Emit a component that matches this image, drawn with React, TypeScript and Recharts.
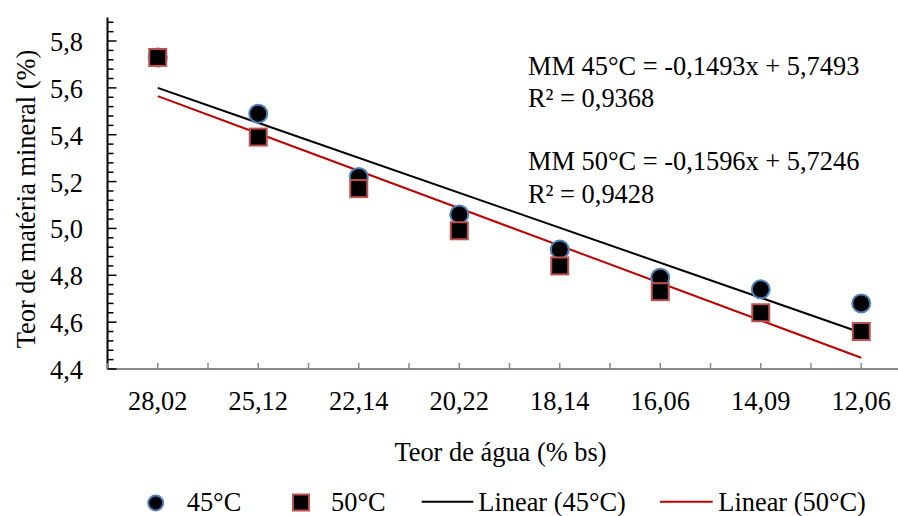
import { ComposedChart, Line, XAxis, YAxis } from "recharts";

const categories = ["28,02", "25,12", "22,14", "20,22", "18,14", "16,06", "14,09", "12,06"];
const mm45 = [5.73, 5.49, 5.22, 5.06, 4.91, 4.79, 4.74, 4.68];
const mm50 = [5.73, 5.39, 5.17, 4.99, 4.84, 4.73, 4.64, 4.56];
// trendline end points (first and last category), from the printed equations
const trend45 = [5.6, null, null, null, null, null, null, 4.555];
const trend50 = [5.565, null, null, null, null, null, null, 4.448];
const yLabels = [4.4, 4.6, 4.8, 5.0, 5.2, 5.4, 5.6, 5.8];

const FONT = '"Liberation Serif", "Times New Roman", serif';
const FS = 26.4;

const rows = categories.map((cat, i) => ({
  idx: i + 1,
  cat,
  mm45: mm45[i],
  mm50: mm50[i],
  t45: trend45[i],
  t50: trend50[i],
}));

// half-category ticks on x, minor ticks every 0.04 on y
const xTicks = Array.from({ length: categories.length * 2 + 1 }, (_, i) => 0.5 + i * 0.5);
const yTicks = Array.from({ length: 38 }, (_, i) => Math.round((4.4 + i * 0.04) * 100) / 100);

const fmt = (v: number) => v.toFixed(1).replace(".", ",");

function YTick(props: any) {
  const { x, y, payload } = props;
  const v = payload.value as number;
  const major = yLabels.some((m) => Math.abs(m - v) < 1e-6);
  return (
    <g>
      <line x1={x} x2={x + (major ? 9 : 6)} y1={y} y2={y} stroke="#000" strokeWidth={1.5} />
      {major && (
        <text x={x - 24.5} y={y + 10} textAnchor="end" fontFamily={FONT} fontSize={FS} fill="#000">
          {fmt(v)}
        </text>
      )}
    </g>
  );
}

function XTick(props: any) {
  const { x, y, payload } = props;
  const v = payload.value as number;
  const isCat = Number.isInteger(v);
  return (
    <g>
      <line x1={x} x2={x} y1={y} y2={y - 6} stroke="#898989" strokeWidth={1.5} />
      {isCat && (
        <text x={x} y={y + 41} textAnchor="middle" fontFamily={FONT} fontSize={FS} fill="#000">
          {categories[v - 1]}
        </text>
      )}
    </g>
  );
}

const circleDot = (p: any) => (
  <circle key={`c${p.index}`} cx={p.cx} cy={p.cy} r={9} fill="#000" stroke="#4f81bd" strokeWidth={2} />
);

const squareDot = (p: any) => (
  <rect
    key={`s${p.index}`}
    x={p.cx - 8.5}
    y={p.cy - 8.5}
    width={17}
    height={17}
    fill="#000"
    stroke="#c0504d"
    strokeWidth={2}
  />
);

export default function App() {
  return (
    <div
      style={{
        position: "absolute",
        left: 0,
        top: 0,
        width: 898,
        height: 516,
        overflow: "hidden",
        background: "#fff",
      }}
    >
      <ComposedChart width={920} height={516} data={rows} margin={{ top: 17.6, right: 8.5, bottom: 0, left: 0 }}>
        <XAxis
          type="number"
          dataKey="idx"
          domain={[0.5, 8.5]}
          ticks={xTicks}
          interval={0}
          height={147}
          tickSize={0}
          tickMargin={0}
          tickLine={false}
          tick={<XTick />}
          axisLine={{ stroke: "#898989", strokeWidth: 2 }}
        />
        <YAxis
          type="number"
          domain={[4.4, 5.9]}
          ticks={yTicks}
          interval={0}
          width={107.5}
          tickSize={0}
          tickMargin={0}
          tickLine={false}
          tick={<YTick />}
          axisLine={{ stroke: "#000", strokeWidth: 2 }}
        />
        <Line dataKey="mm45" stroke="none" dot={circleDot} activeDot={false} isAnimationActive={false} />
        <Line dataKey="mm50" stroke="none" dot={squareDot} activeDot={false} isAnimationActive={false} />
        <Line dataKey="t45" stroke="#000" strokeWidth={2} dot={false} activeDot={false} connectNulls isAnimationActive={false} />
        <Line dataKey="t50" stroke="#c00000" strokeWidth={2} dot={false} activeDot={false} connectNulls isAnimationActive={false} />
      </ComposedChart>

      <svg
        width={898}
        height={516}
        style={{ position: "absolute", left: 0, top: 0, pointerEvents: "none" }}
        fontFamily={FONT}
        fontSize={FS}
        fill="#000"
      >
        <text x={528} y={75}>MM 45°C = -0,1493x + 5,7493</text>
        <text x={528} y={107}>R² = 0,9368</text>
        <text x={528} y={170}>MM 50°C = -0,1596x + 5,7246</text>
        <text x={528} y={202.5}>R² = 0,9428</text>

        <text x={500.5} y={460.5} textAnchor="middle">Teor de água (% bs)</text>
        <text transform="translate(35,199) rotate(-90)" textAnchor="middle">Teor de matéria mineral (%)</text>

        <circle cx={155.7} cy={503} r={7.5} fill="#000" stroke="#4f81bd" strokeWidth={2} />
        <text x={186.7} y={511}>45°C</text>
        <rect x={293} y={494.5} width={16} height={16} fill="#000" stroke="#c0504d" strokeWidth={2} />
        <text x={331} y={511}>50°C</text>
        <line x1={421.7} x2={473.3} y1={501.7} y2={501.7} stroke="#000" strokeWidth={2} />
        <text x={478.3} y={511}>Linear (45°C)</text>
        <line x1={660} x2={712.7} y1={501.7} y2={501.7} stroke="#c00000" strokeWidth={2} />
        <text x={718.3} y={511}>Linear (50°C)</text>
      </svg>
    </div>
  );
}
